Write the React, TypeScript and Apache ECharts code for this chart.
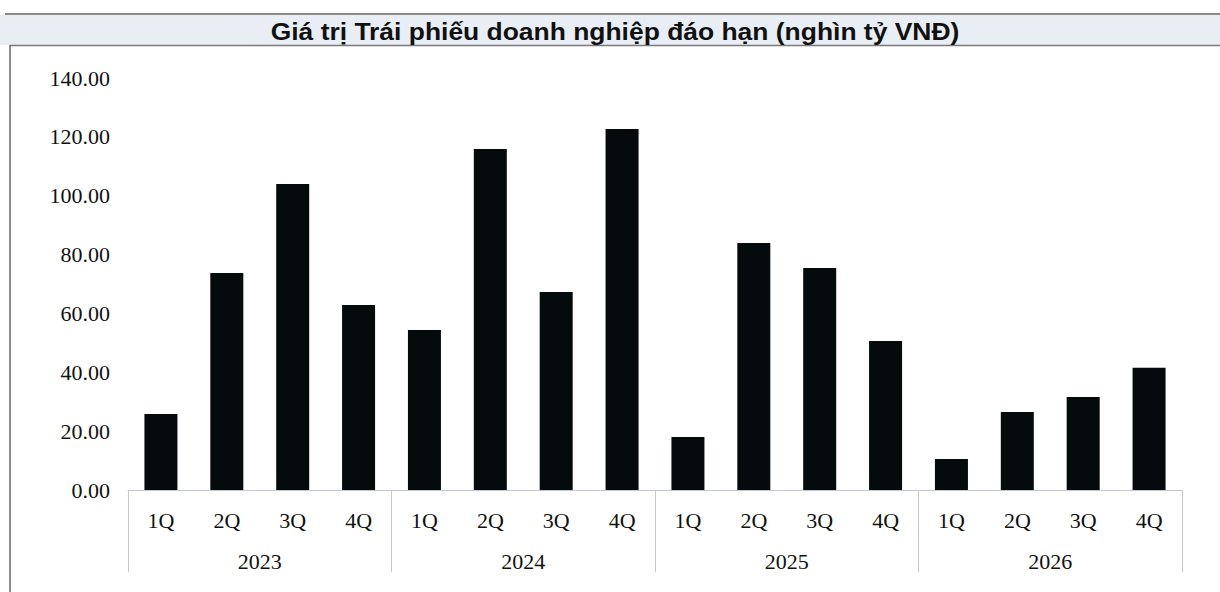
import React, { useEffect, useRef } from "react";
import * as echarts from "echarts";

const quarters = ["1Q", "2Q", "3Q", "4Q", "1Q", "2Q", "3Q", "4Q", "1Q", "2Q", "3Q", "4Q", "1Q", "2Q", "3Q", "4Q"];
const years = ["2023", "2024", "2025", "2026"];
const values = [25.8, 73.7, 104.0, 62.9, 54.4, 115.9, 67.3, 122.7, 18.0, 83.9, 75.4, 50.6, 10.5, 26.5, 31.6, 41.5];
const titleText = "Giá trị Trái phiếu doanh nghiệp đáo hạn (nghìn tỷ VNĐ)";

export default function App() {
  const ref = useRef<HTMLDivElement>(null);
  useEffect(() => {
    if (!ref.current) return;
    const chart = echarts.init(ref.current, undefined, { renderer: "svg" });
    const serif = "'Liberation Serif', 'Times New Roman', serif";
    chart.setOption({
      animation: false,
      backgroundColor: "#ffffff",
      graphic: [
        { type: "rect", shape: { x: 0, y: 15, width: 1220, height: 30 }, style: { fill: "#e9eef5" }, z: -10 },
        { type: "line", shape: { x1: 5, y1: 14, x2: 1220, y2: 14 }, style: { stroke: "#8a8a8a", lineWidth: 2 } },
        { type: "line", shape: { x1: 10, y1: 45.5, x2: 1220, y2: 45.5 }, style: { stroke: "#7a7a7a", lineWidth: 1.5 } },
        { type: "line", shape: { x1: 10, y1: 45, x2: 10, y2: 592 }, style: { stroke: "#666666", lineWidth: 1.5 } },
        {
          type: "text",
          x: 615,
          y: 32,
          scaleX: 1.15,
          style: {
            text: titleText,
            align: "center",
            verticalAlign: "middle",
            fontFamily: "'Liberation Sans', Arial, sans-serif",
            fontWeight: "bold",
            fontSize: 23,
            fill: "#111111",
          },
        },
      ],
      grid: { left: 128, right: 38, top: 78, bottom: 102, containLabel: false },
      xAxis: [
        {
          type: "category",
          data: quarters,
          position: "bottom",
          axisLine: { show: true, lineStyle: { color: "#c4c8d0", width: 1 } },
          axisTick: { show: false },
          axisLabel: { margin: 19, fontFamily: serif, fontSize: 22, color: "#111111", interval: 0 },
        },
        {
          type: "category",
          data: years,
          position: "bottom",
          axisLine: { show: false },
          axisTick: { show: true, length: 82, lineStyle: { color: "#c8c8c8", width: 1 } },
          axisLabel: { margin: 60, fontFamily: serif, fontSize: 22, color: "#111111", interval: 0 },
        },
      ],
      yAxis: {
        type: "value",
        min: 0,
        max: 140,
        interval: 20,
        axisLine: { show: false },
        axisTick: { show: false },
        splitLine: { show: false },
        axisLabel: {
          margin: 18,
          fontFamily: serif,
          fontSize: 22,
          color: "#111111",
          formatter: (v: number) => v.toFixed(2),
        },
      },
      series: [
        {
          type: "bar",
          data: values,
          barWidth: 33,
          itemStyle: { color: "#050a0c" },
        },
      ],
    });
    return () => chart.dispose();
  }, []);
  return <div ref={ref} style={{ width: 1220, height: 592, position: "absolute", left: 0, top: 0 }} />;
}
